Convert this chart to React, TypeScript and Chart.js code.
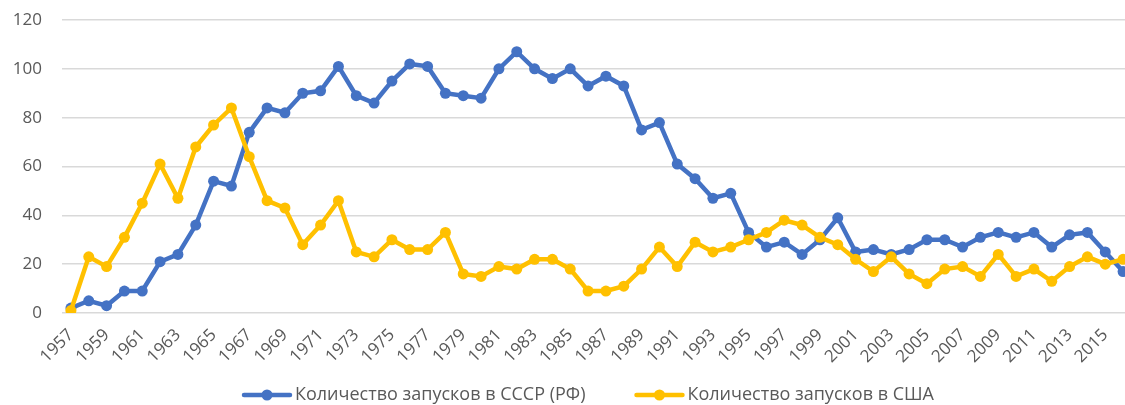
import React, { useEffect, useRef } from "react";
import { Chart, registerables } from "chart.js";

Chart.register(...registerables);

const years = [
  "1957", "1958", "1959", "1960", "1961", "1962", "1963", "1964", "1965", "1966",
  "1967", "1968", "1969", "1970", "1971", "1972", "1973", "1974", "1975", "1976",
  "1977", "1978", "1979", "1980", "1981", "1982", "1983", "1984", "1985", "1986",
  "1987", "1988", "1989", "1990", "1991", "1992", "1993", "1994", "1995", "1996",
  "1997", "1998", "1999", "2000", "2001", "2002", "2003", "2004", "2005", "2006",
  "2007", "2008", "2009", "2010", "2011", "2012", "2013", "2014", "2015", "2016",
];

const ussrLaunches = [
  2, 5, 3, 9, 9, 21, 24, 36, 54, 52,
  74, 84, 82, 90, 91, 101, 89, 86, 95, 102,
  101, 90, 89, 88, 100, 107, 100, 96, 100, 93,
  97, 93, 75, 78, 61, 55, 47, 49, 33, 27,
  29, 24, 30, 39, 25, 26, 24, 26, 30, 30,
  27, 31, 33, 31, 33, 27, 32, 33, 25, 17,
];

const usaLaunches = [
  1, 23, 19, 31, 45, 61, 47, 68, 77, 84,
  64, 46, 43, 28, 36, 46, 25, 23, 30, 26,
  26, 33, 16, 15, 19, 18, 22, 22, 18, 9,
  9, 11, 18, 27, 19, 29, 25, 27, 30, 33,
  38, 36, 31, 28, 22, 17, 23, 16, 12, 18,
  19, 15, 24, 15, 18, 13, 19, 23, 20, 22,
];

const seriesNames = ["Количество запусков в СССР (РФ)", "Количество запусков в США"];
const seriesColors = ["#4472C4", "#FFC000"];

const yMin = 0;
const yMax = 120;
const yStep = 20;

const FONT = "'Open Sans', 'DejaVu Sans', sans-serif";
const TEXT_COLOR = "#595959";

const legendPlugin = {
  id: "customLegend",
  afterDraw(chart: any) {
    const ctx = chart.ctx as CanvasRenderingContext2D;
    ctx.save();
    ctx.font = `18px ${FONT}`;
    ctx.textBaseline = "middle";
    ctx.textAlign = "left";
    let x = 242;
    const y = 395;
    const items = chart.data.datasets.map((ds: any, i: number) => ({ ds, i }));
    items.sort((a: any, b: any) => a.ds.legendIndex - b.ds.legendIndex);
    items.forEach(({ ds }: any) => {
      const color = ds.borderColor;
      ctx.strokeStyle = color;
      ctx.lineWidth = 4.5;
      ctx.lineCap = "round";
      ctx.beginPath();
      ctx.moveTo(x + 2, y);
      ctx.lineTo(x + 48, y);
      ctx.stroke();
      ctx.fillStyle = color;
      ctx.beginPath();
      ctx.arc(x + 25, y, 5.5, 0, Math.PI * 2);
      ctx.fill();
      ctx.fillStyle = TEXT_COLOR;
      ctx.fillText(ds.label, x + 53, y);
      x += 53 + ctx.measureText(ds.label).width + 49;
    });
    ctx.restore();
  },
};

export default function App() {
  const canvasRef = useRef<HTMLCanvasElement | null>(null);

  useEffect(() => {
    const canvas = canvasRef.current;
    if (!canvas) return;
    const chart = new Chart(canvas, {
      type: "line",
      data: {
        labels: years,
        datasets: [
          {
            label: seriesNames[0],
            data: ussrLaunches,
            borderColor: seriesColors[0],
            backgroundColor: seriesColors[0],
            pointBackgroundColor: seriesColors[0],
            pointBorderColor: seriesColors[0],
            borderWidth: 4.5,
            pointRadius: 5.5,
            pointBorderWidth: 0,
            tension: 0,
            order: 1,
            legendIndex: 0,
          } as any,
          {
            label: seriesNames[1],
            data: usaLaunches,
            borderColor: seriesColors[1],
            backgroundColor: seriesColors[1],
            pointBackgroundColor: seriesColors[1],
            pointBorderColor: seriesColors[1],
            borderWidth: 4.5,
            pointRadius: 5.5,
            pointBorderWidth: 0,
            tension: 0,
            order: 0,
            legendIndex: 1,
          } as any,
        ],
      },
      options: {
        animation: false,
        responsive: false,
        maintainAspectRatio: false,
        layout: { padding: { left: 0, right: 13, top: 20, bottom: 37 } },
        plugins: {
          legend: { display: false },
          tooltip: { enabled: false },
        },
        scales: {
          x: {
            offset: true,
            grid: { display: false },
            border: { display: false },
            ticks: {
              autoSkip: false,
              minRotation: 45,
              maxRotation: 45,
              padding: 4,
              color: TEXT_COLOR,
              font: { family: FONT, size: 17 },
              callback: (_v: any, i: number) => (i % 2 === 0 ? years[i] : null),
            },
            afterFit: (s: any) => {
              s.height = 55;
            },
          },
          y: {
            min: yMin,
            max: yMax,
            ticks: {
              stepSize: yStep,
              padding: 20,
              color: TEXT_COLOR,
              font: { family: FONT, size: 17 },
            },
            grid: { color: "#D9D9D9", lineWidth: 1.5, drawTicks: false },
            border: { display: false },
            afterFit: (s: any) => {
              s.width = 62;
              s.paddingTop = 0;
              s.paddingBottom = 0;
            },
          },
        },
      },
      plugins: [legendPlugin],
    });
    return () => chart.destroy();
  }, []);

  return (
    <div
      style={{
        position: "absolute",
        left: 0,
        top: 0,
        width: 1125,
        height: 405,
        overflow: "hidden",
        background: "#ffffff",
      }}
    >
      <canvas ref={canvasRef} width={1145} height={405} style={{ display: "block", width: 1145, height: 405 }} />
    </div>
  );
}
